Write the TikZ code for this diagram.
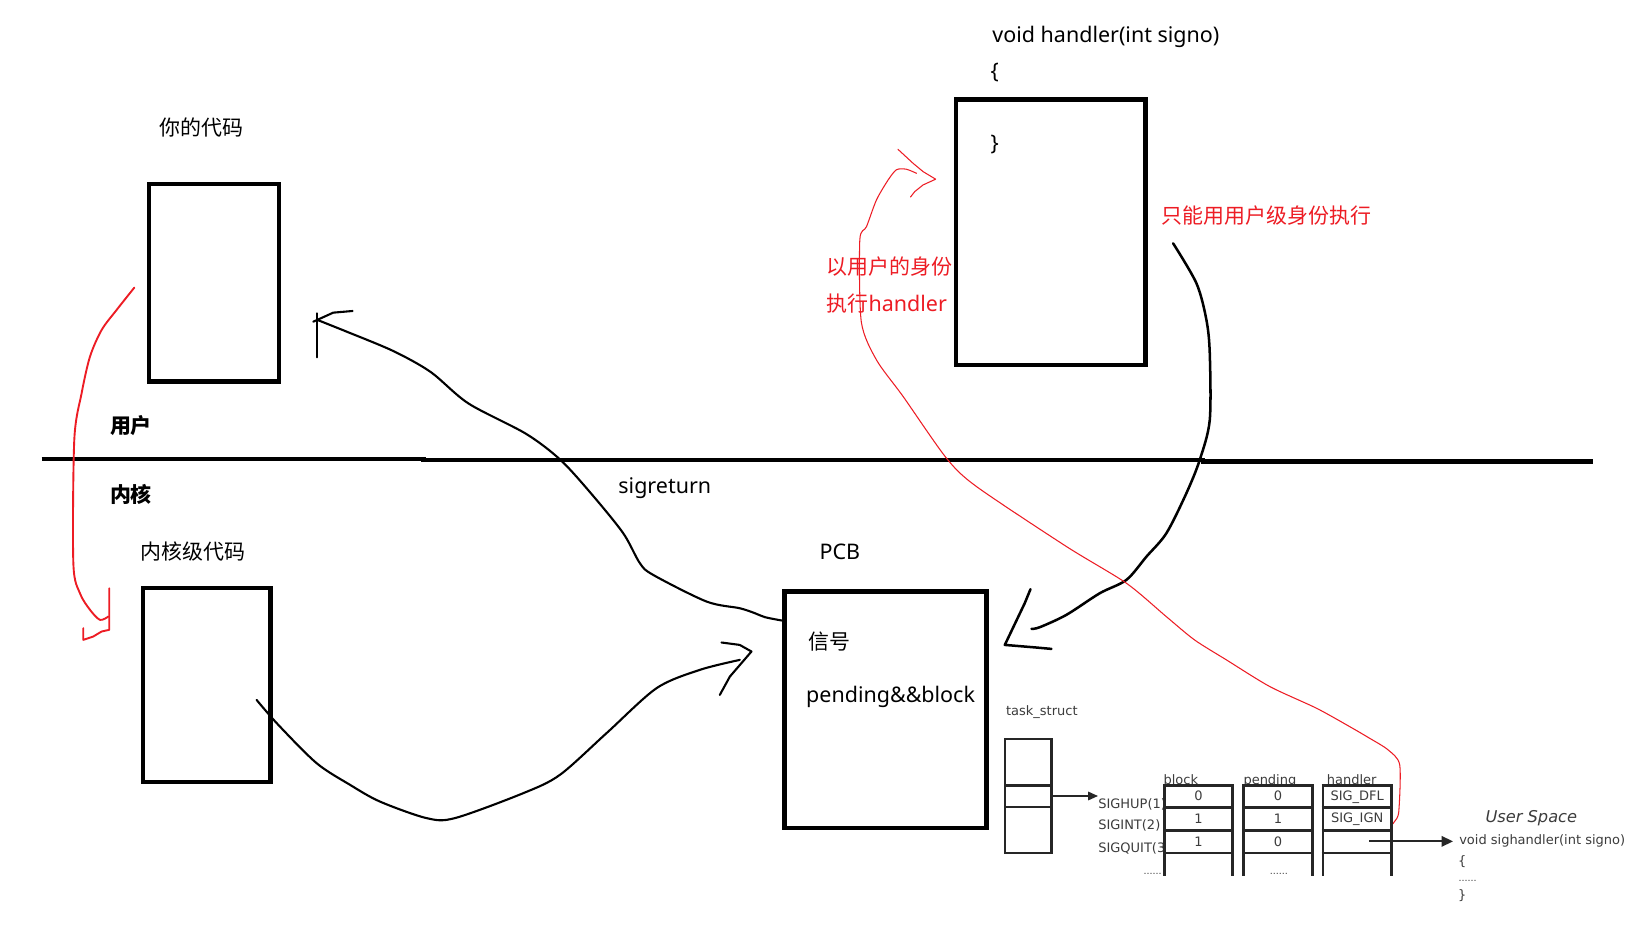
\documentclass[tikz,border=0pt]{standalone}
\usepackage{fontspec}
\setmainfont{Noto Sans}
\newfontfamily\cjk{Noto Sans CJK SC}
\newfontfamily\dvs{DejaVu Sans}
\usetikzlibrary{arrows.meta}
\definecolor{inkred}{RGB}{237,28,36}
\definecolor{figgray}{RGB}{60,60,60}
\tikzset{
 bigbox/.style={draw=black, line width=4.3pt, inner sep=0pt, outer sep=0pt, rectangle},
 lbl/.style={inner sep=0pt, font=\fontsize{20.5}{24}\selectfont},
 clbl/.style={inner sep=0pt, font=\cjk\fontsize{20}{24}\selectfont},
 boldlbl/.style={inner sep=0pt, font=\cjk\bfseries\fontsize{20}{24}\selectfont},
 redlbl/.style={clbl, text=inkred},
 hand/.style={draw=black, line width=2pt, line join=round, line cap=round},
 thickhand/.style={hand, line width=2.4pt},
 redhand/.style={draw=inkred, line width=1.8pt, line join=round, line cap=round},
 thinred/.style={draw=inkred, line width=1pt, line join=round, line cap=round},
 ftxt/.style={inner sep=0pt, font=\dvs\fontsize{12.4}{14}\selectfont, text=figgray},
 fline/.style={draw=black!85, line width=2.6pt},
 tline/.style={draw=black!85, line width=2.2pt},
}
\begin{document}
\begin{tikzpicture}[x=1pt,y=-1pt]
\fill[white] (0,0) rectangle (1570,894.3);
\useasboundingbox (0,0) rectangle (1570,894.3);

% divider between user and kernel
\coordinate (L0) at (39.8,438.3);
\coordinate (L1) at (1520,440.3);
\draw[line width=4.3pt] (L0) -- (404,438.3) -- (404,439.2) -- (1148,439.2) -- (1148,440.3) -- (L1);

% labels of the two spaces
\node[boldlbl] (user) at (125,406.5) {用户};
\node[boldlbl] (kern) at (125,472.3) {内核};

% boxes
\node[bigbox, minimum width=124.4pt, minimum height=188.5pt] (ucode) at (204.2,269.65) {};
\node[clbl] (ucodet) at (192.4,121.5) {你的代码};
\node[bigbox, minimum width=121.7pt, minimum height=185.5pt] (kcode) at (197.15,653.75) {};
\node[clbl] (kcodet) at (184,526.4) {内核级代码};
\node[bigbox, minimum width=180.9pt, minimum height=253.2pt] (hbox) at (1002.95,221.7) {};
\node[bigbox, minimum width=192.7pt, minimum height=225.4pt] (pcb) at (844.95,677.3) {};

% texts
\node[lbl, anchor=west] (hsig) at (947,35) {void handler(int signo)};
\node[lbl] (lbr) at (949.4,69.5) {\{};
\node[lbl] (rbr) at (949.4,138.4) {\}};
\node[lbl] (pcbt) at (801.5,526.4) {PCB};
\node[clbl] (sigt) at (792,612.3) {信号};
\node[lbl] (pbt) at (850,665) {pending\&\&block};
\node[lbl] (sret) at (634.5,466) {sigreturn};
\node[redlbl, anchor=west] (r1) at (1108.5,206) {只能用用户级身份执行};
\node[redlbl, anchor=west] (r2) at (788.8,254.5) {以用户的身份};
\node[redlbl, anchor=west] (r3) at (788.8,289.4) {执行{\normalfont\fontsize{20.5}{24}\selectfont handler}};

% ---------- hand drawn connectors ----------
% sigreturn: PCB back to user code
\coordinate (aS) at (746,592.2);
\coordinate (aE) at (302.8,305.3);
\draw[hand] plot[smooth, tension=0.5] coordinates {(aS) (730,589) (720.4,585.2) (706,580.5) (674.3,574.1) (623.4,548.7) (610.7,537.5) (594.8,508.9) (565,472) (535,439) (502,414) (447,385) (411,355) (375.3,335) (330.8,316.5) (aE)};
\draw[hand] (302.2,299) -- (302.2,341);
\draw[hand] (299,307) -- (aE) -- (318,298.4) -- (336.5,296.8);

% kernel code to PCB
\coordinate (bS) at (244.9,668);
\coordinate (bE) at (706.1,629.8);
\coordinate (bT) at (717.2,621.8);
\draw[hand] plot[smooth, tension=0.5] coordinates {(bS) (265.6,691.8) (302.2,728.4) (334,749) (362.6,765) (407.1,780.8) (434.2,780.8) (499.4,757) (534.4,739.5) (578.9,699.7) (626.6,656.8) (668,639.3) (bE)};
\draw[hand] (688.6,613.2) -- (706,615.5) -- (bT) -- (696.6,645.7) -- (687,663.2);

% handler back to PCB
\coordinate (cS) at (1119.6,232.2);
\coordinate (cE) at (984.4,600.2);
\coordinate (cT) at (959,615.5);
\draw[thickhand] plot[smooth, tension=0.5] coordinates {(cS) (1141.9,270.4) (1151.4,305.3) (1154.6,337.2) (1154.6,400.8) (1145,439) (1132.3,470.7) (1113.2,508.9) (1094.2,531.2) (1075.1,553.4) (1049.6,566.2) (1017.8,586.8) (992.4,598.6) (cE)};
\draw[thickhand] (983.5,562.3) -- (978,575.7) -- (cT) -- (989.2,618) -- (1003.5,619.3);

% red: user code down to kernel code
\coordinate (dS) at (128.2,274.5);
\coordinate (dE) at (103.4,588.4);
\draw[redhand] plot[smooth, tension=0.5] coordinates {(dS) (111.3,295.8) (97,314.9) (85.9,340.3) (77.9,375.3) (70.9,419.8) (70,537.5) (76.3,566.2) (85.9,582) (95.4,591.6) (dE)};
\draw[redhand] (104.3,561.4) -- (104.3,601.1) -- (97,602.7) -- (89,607.5) -- (79.5,610.7) -- (79.5,599.5);

% red thin: handler table up to handler box
\coordinate (eS) at (1322.5,787);
\coordinate (eE) at (874.7,165.4);
\coordinate (eT) at (893,171);
\draw[thinred] plot[smooth, tension=0.45] coordinates {(eS) (1328,787) (1331,784) (1335,774.5) (1335.9,730) (1324.7,715.6) (1307,704.5) (1288,693.4) (1256.4,675.9) (1211.8,655.2) (1170.5,629.8) (1140,610.7) (1113,588.4) (1075,556.6) (1017.8,521.6) (932,464.4) (903.3,437.3) (862,378.5) (836.5,343.5) (822,307) (820.6,229) (827,216.3) (836.5,190.8) (847.6,171.8) (855.6,162) (865,161.5) (eE)};
\draw[thinred] (857,142.5) -- (871.5,155.9) -- (881,163.8) -- (eT) -- (881,176.5) -- (873,182.9) -- (869,188);

% ---------- task_struct figure ----------
\node[ftxt, anchor=west] (tst) at (960,679.7) {task\_struct};
\node[tline, rectangle, inner sep=0pt, outer sep=0pt, minimum width=44.5pt, minimum height=108.6pt] (tbox) at (981.25,759.7) {};
\draw[tline] (959,749.7) -- (1003.5,749.7);
\draw[tline] (959,770) -- (1003.5,770);

\node[ftxt, anchor=west] (shup) at (1048,768) {SIGHUP(1)};
\node[ftxt, anchor=west] (sint) at (1048,787.8) {SIGINT(2)};
\node[ftxt, anchor=west] (squit) at (1048,809.5) {SIGQUIT(3)};
\draw[line width=1.8pt, draw=black!85, -{Triangle[length=9.5pt,width=8pt]}] (tbox.east) -- (tbox.east -| shup.west);

\node[ftxt, anchor=base] (hblock) at (1127,749) {block};
\node[ftxt, anchor=base] (hpend) at (1212,749) {pending};
\node[ftxt, anchor=base] (hhand) at (1290,749) {handler};

\foreach \xa/\xb in {1111.6/1176, 1187/1252.6, 1262.7/1328} {
  \fill[white] (\xa,750) rectangle (\xb,836.5);
  \foreach \yy in {750,771,792.5,814} \draw[fline] (\xa-1.3,\yy) -- (\xb+1.3,\yy);
  \draw[fline] (\xa,750) -- (\xa,836.5);
  \draw[fline] (\xb,750) -- (\xb,836.5);
}
\node[ftxt] (b1) at (1143.9,759.5) {0};
\node[ftxt] (b2) at (1143.9,781.8) {1};
\node[ftxt] (b3) at (1143.9,803.1) {1};
\node[ftxt] (p1) at (1219.8,759.5) {0};
\node[ftxt] (p2) at (1219.8,781.8) {1};
\node[ftxt] (p3) at (1219.8,803.1) {0};
\node[ftxt] (h1) at (1295.3,761) {SIG\_DFL};
\node[ftxt] (h2) at (1295.3,781.5) {SIG\_IGN};
\node[ftxt, font=\dvs\fontsize{9}{10}\selectfont] (dots1) at (1100,834) {......};
\node[ftxt, font=\dvs\fontsize{9}{10}\selectfont] (dots2) at (1220.6,834) {......};

\node[ftxt, font=\dvs\itshape\fontsize{15.5}{18}\selectfont] (uspace) at (1461.5,781) {User Space};
\node[ftxt, anchor=west] (sigh) at (1392.5,803) {void sighandler(int signo)};
\node[ftxt, anchor=west] (sb1) at (1391.5,822) {\{};
\node[ftxt, anchor=west, font=\dvs\fontsize{9}{10}\selectfont] (sb2) at (1392,841) {......};
\node[ftxt, anchor=west] (sb3) at (1391.5,855) {\}};
\coordinate (hS) at (1306.6,803);
\draw[line width=1.8pt, draw=black!85, -{Triangle[length=11pt,width=10pt]}] (hS) -- ([xshift=-5.7pt]sigh.west);
\end{tikzpicture}
\end{document}
